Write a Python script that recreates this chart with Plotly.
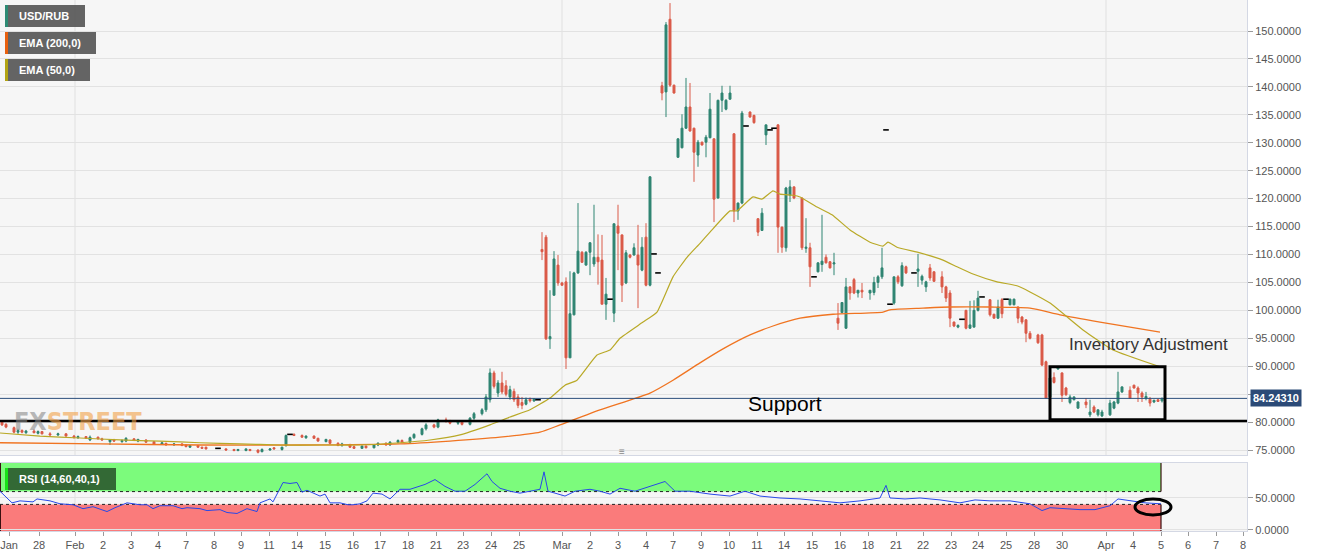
import plotly.graph_objects as go

# ---------------- data ----------------
candle_slot = [
    0, 1, 3, 4, 5, 6, 8, 9, 10, 12, 14, 16, 18, 19, 21, 22, 24, 25, 27, 28,
    30, 31, 33, 34, 36, 38, 40, 41, 43, 45, 46, 47, 49, 50, 51, 56, 58, 59, 61, 62,
    64, 65, 67, 68, 70, 71, 73, 75, 76, 78, 79, 81, 82, 84, 85, 87, 88, 90, 91, 93,
    94, 96, 97, 99, 100, 102, 103, 105, 106, 108, 109, 111, 112, 114, 115, 117, 118, 120, 121, 122,
    123, 124, 125, 126, 127, 128, 129, 130, 131, 132, 133,
    135, 136, 137, 138, 139, 140, 141, 142, 143, 144, 145, 146, 147, 148, 149, 150, 151, 153, 154, 155,
    156, 157, 158, 159, 160, 161, 162, 165, 166, 167, 168, 169, 170, 171, 172, 173, 174, 175, 176, 177,
    178, 179, 180, 181, 182, 183, 184, 185, 187, 188, 189, 190, 191, 194, 195, 196, 197, 198, 200, 201,
    202, 204, 205, 206, 207, 208, 209, 210, 211, 212, 213, 214, 215, 217, 218, 219, 220, 223, 224, 225,
    226, 229, 230, 231, 232, 233, 235, 236, 237, 238, 239, 241, 242, 243, 244, 247, 248, 249, 250, 252,
    253, 254, 255, 256, 257, 259, 260, 261, 262, 263, 264, 265, 266, 267, 268, 269, 271, 272, 273, 274,
    275, 277, 278, 279, 280, 282, 283, 284, 285, 286, 287, 288, 289, 290,
]
candle_open = [
    80.0, 79.6, 79.0, 78.2, 78.5, 78.1, 78.4, 78.0, 78.3, 77.9, 77.7, 77.9, 77.5, 77.2, 77.4, 76.8, 77.3, 77.0, 76.5, 76.8,
    76.5, 76.6, 77.0, 76.6, 76.8, 76.5, 76.0, 76.2, 75.9, 76.1, 75.9, 75.5, 75.8, 75.5, 75.5, 75.2, 75.1, 74.9, 74.9, 75.1,
    75.0, 74.7, 75.0, 75.4, 75.1, 75.8, 77.8, 77.6, 77.2, 77.5, 77.1, 76.5, 76.8, 76.2, 75.8, 76.0, 75.6, 75.3, 75.7, 75.4,
    75.9, 76.2, 75.9, 76.4, 76.7, 76.4, 77.2, 77.8, 78.8, 79.5, 79.1, 80.4, 80.1, 79.8, 80.0, 79.6, 80.7, 81.5, 82.2, 84.0,
    88.8, 85.2, 87.0, 86.5, 84.5, 85.5, 84.5, 83.5, 83.2, 84.1, 83.8,
    110.9, 113.1, 94.9, 102.7, 108.1, 104.9, 105.1, 91.5, 99.2, 106.7, 110.4, 108.1, 110.4, 108.3, 109.5, 109.0, 101.1, 99.5, 115.1, 113.5,
    104.9, 109.9, 109.9, 109.9, 107.2, 113.1, 104.5, 140.2, 139.1, 152.1, 140.3, 127.4, 129.1, 132.6, 136.4, 132.6, 127.8, 130.1, 130.1, 130.9,
    130.7, 120.1, 137.6, 136.0, 137.8, 131.6, 117.8, 119.2, 135.5, 134.9, 116.4, 114.3, 131.4, 133.2, 114.9, 111.2, 120.6, 122.1, 120.1, 111.1,
    111.2, 106.9, 108.2, 109.5, 108.7, 108.3, 98.6, 99.6, 96.8, 104.2, 105.5, 103.1, 103.6, 103.1, 103.2, 105.0, 106.0, 101.3, 106.0, 104.4,
    107.8, 107.0, 105.4, 104.2, 107.6, 106.9, 106.0, 104.2, 103.1, 97.9, 97.0, 100.0, 96.8, 97.0, 100.0, 101.9, 99.3, 98.6, 101.9, 101.0,
    101.0, 100.6, 98.8, 98.3, 95.9, 95.6, 95.6, 90.8, 84.5, 88.0, 89.5, 88.8, 86.1, 83.5, 84.0, 82.5, 83.6, 81.3, 82.7, 81.3,
    81.1, 81.3, 82.5, 83.4, 85.4, 85.7, 86.6, 86.1, 85.2, 84.3, 84.1, 83.6, 84.0, 83.8,
]
candle_high = [
    80.2, 79.8, 79.2, 78.8, 78.7, 78.6, 78.7, 78.5, 78.4, 78.2, 78.1, 78.0, 77.7, 77.6, 77.5, 77.6, 77.4, 77.2, 76.9, 77.0,
    76.9, 77.3, 77.1, 77.0, 76.9, 76.6, 76.5, 76.3, 76.2, 76.2, 76.0, 75.9, 75.9, 75.6, 75.6, 75.3, 75.2, 75.2, 75.3, 75.2,
    75.1, 75.3, 75.3, 75.5, 75.6, 77.8, 78.0, 77.8, 77.6, 77.6, 77.2, 77.0, 76.9, 76.4, 76.3, 76.1, 75.8, 75.8, 75.8, 76.0,
    76.4, 76.4, 76.6, 76.9, 76.9, 77.4, 78.0, 79.0, 79.8, 79.7, 80.6, 80.8, 80.4, 80.2, 80.1, 80.9, 81.8, 82.5, 85.0, 89.6,
    89.2, 87.5, 89.0, 87.5, 86.5, 86.0, 85.0, 84.5, 84.4, 84.4, 84.3,
    114.0, 113.5, 103.6, 110.6, 109.9, 105.1, 105.9, 107.0, 106.9, 119.2, 110.6, 110.6, 112.2, 118.9, 113.6, 113.5, 105.8, 115.5, 118.9, 113.6,
    110.8, 110.1, 112.0, 115.3, 113.1, 115.6, 124.0, 140.9, 151.6, 155.0, 140.4, 130.8, 135.1, 141.6, 140.7, 132.7, 130.5, 130.2, 131.4, 138.9,
    130.8, 137.7, 140.2, 137.8, 140.2, 131.7, 119.3, 135.7, 135.6, 135.0, 116.5, 118.3, 133.2, 133.3, 115.0, 122.1, 123.3, 122.2, 120.2, 116.5,
    112.1, 108.6, 117.1, 110.0, 108.8, 110.3, 101.3, 101.4, 105.8, 104.3, 105.8, 103.6, 104.9, 103.6, 106.0, 106.3, 111.2, 106.0, 106.3, 108.6,
    108.0, 110.1, 106.4, 105.3, 108.3, 107.0, 107.0, 104.4, 103.6, 98.0, 97.5, 100.1, 101.7, 101.8, 103.5, 102.0, 99.4, 101.9, 102.2, 102.1,
    102.1, 100.7, 99.0, 98.4, 96.3, 95.8, 95.8, 91.0, 88.1, 88.9, 89.8, 88.9, 86.3, 84.9, 84.6, 83.7, 84.3, 84.0, 83.0, 82.2,
    82.2, 84.0, 83.8, 89.0, 86.4, 86.4, 86.7, 86.4, 85.5, 85.4, 84.5, 84.0, 84.1, 84.4,
]
candle_low = [
    79.3, 78.9, 78.0, 77.9, 78.0, 77.9, 78.0, 77.8, 77.8, 77.6, 77.5, 77.4, 77.1, 77.0, 77.0, 76.6, 76.9, 76.7, 75.9, 76.5,
    76.3, 76.4, 76.6, 76.4, 76.3, 75.9, 75.9, 75.8, 75.8, 75.7, 75.5, 75.4, 75.4, 75.2, 75.1, 74.9, 74.8, 74.8, 74.8, 74.8,
    74.4, 74.6, 74.9, 75.1, 74.9, 75.6, 77.5, 77.2, 77.0, 77.0, 76.5, 76.4, 76.0, 75.7, 75.6, 75.4, 75.2, 75.2, 75.3, 75.3,
    75.7, 75.8, 75.8, 76.2, 76.3, 76.3, 77.0, 77.6, 78.5, 78.9, 78.9, 79.9, 79.6, 79.5, 79.4, 79.4, 80.4, 81.2, 81.8, 83.5,
    86.0, 84.5, 85.0, 84.6, 84.0, 83.6, 82.5, 82.3, 83.0, 83.5, 83.6,
    109.0, 94.7, 93.1, 102.7, 104.4, 104.4, 89.5, 91.5, 99.1, 106.5, 108.5, 108.0, 106.3, 107.8, 104.6, 101.1, 98.3, 97.9, 107.2, 101.5,
    104.7, 109.3, 109.8, 100.4, 107.0, 104.3, 104.3, 137.6, 134.6, 140.0, 138.8, 127.3, 129.0, 132.5, 132.0, 123.0, 125.7, 129.5, 127.4, 130.8,
    115.8, 120.0, 135.5, 135.8, 137.7, 115.8, 116.2, 119.0, 134.5, 133.4, 113.3, 114.2, 129.6, 110.3, 110.3, 110.5, 119.4, 119.9, 110.8, 110.3,
    104.2, 106.8, 106.9, 108.4, 107.5, 106.3, 96.5, 99.5, 96.7, 101.9, 102.9, 102.3, 102.2, 101.9, 102.7, 104.0, 105.6, 101.0, 104.7, 104.2,
    106.5, 104.2, 104.6, 103.3, 105.3, 105.1, 103.1, 101.5, 97.0, 97.0, 96.8, 96.6, 96.7, 96.9, 99.8, 98.9, 98.5, 98.5, 98.6, 100.9,
    100.9, 97.7, 97.5, 94.3, 94.8, 94.0, 90.0, 84.2, 84.3, 86.9, 89.4, 83.6, 84.7, 83.2, 83.9, 82.4, 82.5, 80.9, 81.6, 81.0,
    80.9, 81.1, 82.3, 83.2, 85.2, 84.2, 86.0, 83.6, 83.6, 83.9, 82.8, 83.4, 83.6, 83.5,
]
candle_close = [
    79.5, 79.1, 78.2, 78.5, 78.2, 78.4, 78.1, 78.3, 77.9, 77.7, 77.9, 77.5, 77.2, 77.4, 77.1, 77.3, 77.0, 76.8, 76.8, 76.6,
    76.7, 77.1, 76.7, 76.9, 76.4, 76.0, 76.3, 75.9, 76.1, 75.8, 75.6, 75.8, 75.5, 75.3, 75.2, 75.0, 74.9, 75.1, 75.2, 74.9,
    74.6, 75.1, 75.2, 75.2, 75.5, 77.6, 77.6, 77.3, 77.5, 77.1, 76.6, 76.9, 76.2, 75.8, 76.1, 75.5, 75.3, 75.7, 75.4, 75.9,
    76.2, 75.9, 76.4, 76.7, 76.4, 77.2, 77.8, 78.8, 79.5, 79.1, 80.4, 80.1, 79.8, 80.0, 79.6, 80.7, 81.5, 82.2, 84.5, 88.8,
    86.4, 87.0, 85.4, 85.0, 85.8, 84.0, 83.0, 83.0, 84.0, 83.8, 84.1,
    110.5, 94.9, 95.3, 109.2, 104.9, 104.5, 91.5, 99.4, 106.7, 110.6, 108.6, 110.4, 112.1, 109.5, 108.7, 101.1, 102.9, 115.5, 113.8, 104.5,
    110.3, 109.5, 111.2, 108.1, 111.3, 104.5, 123.9, 138.9, 151.1, 140.3, 138.9, 130.7, 132.6, 136.4, 132.1, 128.3, 130.1, 129.6, 131.0, 136.0,
    119.9, 137.6, 138.9, 137.6, 138.9, 117.8, 119.2, 135.3, 134.6, 133.6, 114.0, 117.4, 133.2, 114.9, 111.3, 121.9, 122.1, 120.1, 111.2, 111.3,
    107.8, 108.5, 108.8, 108.5, 107.6, 108.5, 97.7, 101.4, 104.2, 103.1, 103.1, 103.6, 103.3, 103.6, 105.0, 106.0, 107.6, 106.0, 105.1, 108.0,
    106.7, 107.4, 106.1, 105.1, 105.8, 105.2, 104.2, 102.2, 98.6, 97.2, 97.3, 96.8, 97.4, 100.0, 102.2, 99.2, 98.6, 100.6, 99.4, 102.0,
    102.0, 98.6, 97.9, 95.9, 95.0, 94.2, 90.2, 84.3, 87.9, 87.1, 89.7, 84.8, 84.9, 84.5, 84.5, 83.6, 83.1, 81.8, 81.8, 82.2,
    81.8, 83.4, 83.6, 85.4, 86.3, 84.3, 86.1, 85.2, 84.5, 84.6, 83.4, 83.9, 83.7, 84.2431,
]

dash_slot = [54, 72, 134, 152, 163, 164, 186, 192, 193, 203, 221, 222, 228, 240, 245, 251]
dash_price = [75.3, 77.8, 84.0, 102.0, 110.1, 106.7, 133.0, 132.3, 132.6, 106.0, 132.3, 101.1, 106.7, 98.4, 102.4, 102.0]

ema50_slot = [-0.5, 9.5, 19.5, 29.5, 39.5, 49.5, 59.5, 69.5, 79.5, 89.5, 99.5, 107, 114.5, 122, 127, 132,
              137, 140.75, 143.75, 148.75, 152, 154.5, 160.25, 163.75, 167.75, 171.25, 174.5, 177, 182,
              183.75, 187.75, 190, 192.75, 194.5, 197.75, 199.5, 203.75, 207.5, 212, 217, 220.25, 221.5,
              223.75, 229.5, 235.25, 238.75, 242.75, 248.75, 253.75, 257, 262, 270.25, 277.75, 289.5]
ema50_val = [78.05, 77.5, 77.15, 76.8, 76.6, 76.3, 76.1, 75.9, 75.9, 75.9, 76.3, 76.8, 77.7, 79.5, 80.9, 82.2,
             84.3, 86.6, 87.5, 92.0, 92.9, 95.0, 97.9, 99.7, 106.0, 109.5, 112.0, 114.0, 117.8,
             117.8, 120.3, 119.9, 121.4, 120.8, 120.6, 120.3, 118.5, 117.1, 114.4, 112.2, 111.5, 112.2,
             111.3, 110.3, 109.0, 107.8, 106.5, 105.1, 104.4, 103.3, 101.3, 96.5, 92.9, 89.9]

ema200_slot = [-0.5, 24.5, 49.5, 74.5, 99.5, 112, 124.5, 134.5, 139.5, 149.5, 162, 167.75, 174.5, 180.25,
               187, 192.75, 199.5, 207.75, 220.25, 222, 230.25, 237, 247, 257, 264.5, 274.5, 289.5]
ema200_val = [76.3, 76.1, 75.9, 75.9, 76.1, 76.6, 77.3, 78.2, 79.5, 82.2, 85.2, 87.5, 90.6, 93.1,
              95.6, 97.2, 98.6, 99.3, 99.7, 100.1, 100.4, 100.6, 100.6, 100.4, 99.2, 97.9, 96.1]

rsi_slot = [-0.5, 2.5, 4.5, 7.75, 8.75, 12, 14.5, 17.75, 20.25, 22.75, 26.25, 28.25, 31.25, 34.5, 36.25,
            37.75, 39.5, 42.75, 45, 46.25, 49.5, 51.25, 54.5, 56.25, 58.75, 61.25, 63.75, 64.5, 67, 67.75,
            70.25, 72, 73.75, 75, 76.25, 77.75, 79.5, 80.75, 82, 84.5, 86.5, 87.75, 89.5, 91.25, 92.75,
            95, 97, 99.5, 102, 105.75, 108.25, 110.75, 113.25, 115.75, 118.25, 121.25, 122.5, 124.5, 127,
            129.5, 132, 134.5, 135.5, 136.5, 138.25, 140.75, 143.25, 147, 149.5, 152, 154.5, 158.25, 162,
            165.75, 168.25, 172, 177, 182, 185.75, 189.5, 194.5, 199.5, 204.5, 209.5, 214.5, 219.5, 221,
            222, 225.75, 229.5, 234.5, 239.5, 243.25, 247, 252, 257, 260, 262, 265.75, 269.5, 273.25, 277,
            279, 282, 285.75, 289.75]
rsi_val = [60.6, 42.4, 45.5, 43.9, 48.5, 45.5, 40.9, 39.4, 33.3, 36.4, 28.8, 34.8, 42.4, 39.4, 39.4,
           33.3, 37.9, 37.9, 33.3, 34.8, 33.3, 30.3, 31.8, 27.3, 25.8, 33.3, 28.8, 42.4, 48.5, 43.9,
           74.2, 72.7, 74.2, 59.1, 62.1, 57.6, 53.0, 56.1, 42.4, 42.4, 39.4, 39.4, 40.9, 45.5, 57.6,
           56.1, 48.5, 63.6, 63.6, 71.2, 78.8, 68.2, 60.6, 60.6, 71.2, 87.9, 75.8, 65.2, 60.6,
           57.6, 60.6, 63.6, 90.9, 60.6, 57.6, 53.0, 60.6, 63.6, 60.6, 56.1, 65.2, 60.6, 68.2,
           75.8, 60.6, 60.6, 56.1, 53.0, 60.6, 53.0, 50.0, 48.5, 45.5, 42.4, 45.5, 50.0, 69.7,
           50.0, 48.5, 50.0, 47.0, 42.4, 47.0, 45.5, 45.5, 40.9, 30.3, 34.8, 33.3, 31.8, 31.8, 37.9,
           48.5, 45.5, 42.4, 40.9]

tick_slot = [1.75, 9.25, 18.25, 25.25, 32.25, 39, 46, 53, 59.75, 66.75, 73.75, 80.75, 87.75, 94.5,
             101.5, 108.5, 115.25, 122.25, 129.25, 140, 147, 154, 161, 167.75, 174.75, 181.75, 188.75,
             195.5, 202.5, 209.5, 216.5, 223.5, 230.25, 237.25, 244, 251, 258, 265, 276, 282.75,
             289.75, 296.5, 303.5, 310.25]
tick_text = ["Jan", "28", "Feb", "2", "3", "4", "7", "8", "9", "11", "14", "15", "16", "17",
             "18", "21", "23", "24", "25", "Mar", "2", "3", "4", "7", "9", "10", "11",
             "14", "15", "16", "18", "21", "22", "23", "24", "25", "28", "30", "Apr", "4",
             "5", "6", "7", "8"]
month_slot = [18.25, 140, 276]

last_price = 84.2431
last_price_text = "84.24310"
support_level = 80.2
box_slots = [262, 290.75]
box_prices = [80.4, 89.9]
price_ticks = [75, 80, 85, 90, 95, 100, 105, 110, 115, 120, 125, 130, 135, 140, 145, 150]
# the 85 label sits under the last-price tag in the reference
price_tick_text = ["75.0000", "80.0000", "", "90.0000", "95.0000", "100.0000", "105.0000",
                   "110.0000", "115.0000", "120.0000", "125.0000", "130.0000", "135.0000",
                   "140.0000", "145.0000", "150.0000"]
rsi_ticks = [0, 50]
rsi_tick_text = ["0.0000", "50.0000"]

# ---------------- figure ----------------
UP = "#2f8572"
DN = "#da5a48"
FONT = "Liberation Sans, Arial, sans-serif"
W, H = 1331, 558
PW, PH = 1247, 531


def pxx(x):
    return x / PW


def pyy(y):
    return 1 - y / PH


fig = go.Figure()

fig.add_trace(go.Candlestick(
    x=candle_slot, open=candle_open, high=candle_high, low=candle_low, close=candle_close,
    increasing=dict(line=dict(color=UP, width=1), fillcolor=UP),
    decreasing=dict(line=dict(color=DN, width=1), fillcolor=DN),
    xaxis="x", yaxis="y", showlegend=False, hoverinfo="skip",
))
fig.add_trace(go.Scatter(
    x=dash_slot, y=dash_price, mode="markers", xaxis="x", yaxis="y",
    marker=dict(symbol="line-ew", size=4, line=dict(color="black", width=1.6)),
    showlegend=False, hoverinfo="skip",
))
fig.add_trace(go.Scatter(
    x=ema200_slot, y=ema200_val, mode="lines", xaxis="x", yaxis="y",
    line=dict(color="#f07421", width=1.3, shape="spline", smoothing=0.6),
    showlegend=False, hoverinfo="skip",
))
fig.add_trace(go.Scatter(
    x=ema50_slot, y=ema50_val, mode="lines", xaxis="x", yaxis="y",
    line=dict(color="#b9a927", width=1.2, shape="spline", smoothing=0.4),
    showlegend=False, hoverinfo="skip",
))
fig.add_trace(go.Scatter(
    x=rsi_slot, y=rsi_val, mode="lines", xaxis="x2", yaxis="y2",
    line=dict(color="#2848e8", width=1),
    showlegend=False, hoverinfo="skip",
))

XR = [-0.5, 311.25]
AXLINE = "#d4d8e4"
TICKFONT = dict(size=11, color="#555555", family=FONT)
fig.update_layout(
    width=W, height=H,
    margin=dict(l=0, r=W - PW, t=0, b=H - PH),
    paper_bgcolor="white", plot_bgcolor="#f6f6f6",
    showlegend=False,
    font=dict(family=FONT),
    xaxis=dict(domain=[0, 1], anchor="y", range=XR, showticklabels=False, showgrid=False,
               zeroline=False, rangeslider=dict(visible=False), showline=True,
               linecolor=AXLINE, mirror=True, ticks=""),
    xaxis2=dict(domain=[0, 1], anchor="y2", range=XR, matches="x", tickmode="array",
                tickvals=tick_slot, ticktext=tick_text, ticks="outside", ticklen=4,
                tickcolor="#9a9a9a", tickfont=TICKFONT, ticklabeloverflow="allow",
                showgrid=False, zeroline=False, showline=True, linecolor=AXLINE, mirror=True),
    yaxis=dict(domain=[1 - 455 / PH, 1], anchor="x", side="right", range=[74.11, 155.55],
               tickmode="array", tickvals=price_ticks, ticktext=price_tick_text, ticks="outside",
               ticklen=5, tickcolor="#9a9a9a", tickfont=TICKFONT,
               showgrid=True, gridcolor="#e2e2e2", gridwidth=1, zeroline=False,
               showline=True, linecolor=AXLINE, mirror=True),
    yaxis2=dict(domain=[0, 1 - 463 / PH], anchor="x2", side="right", range=[-1.6, 104.7],
                tickmode="array", tickvals=rsi_ticks, ticktext=rsi_tick_text, ticks="outside",
                ticklen=5, tickcolor="#9a9a9a", tickfont=TICKFONT,
                showgrid=True, gridcolor="#e2e2e2", zeroline=False,
                showline=True, linecolor=AXLINE, mirror=True),
)

shapes = []
# month separators
for m in month_slot:
    shapes.append(dict(type="line", xref="x", yref="y", x0=m, x1=m, y0=74.11, y1=155.55,
                       line=dict(color="#e0e0e0", width=1), layer="below"))
    shapes.append(dict(type="line", xref="x2", yref="y2", x0=m, x1=m, y0=-1.6, y1=104.7,
                       line=dict(color="#e0e0e0", width=1), layer="below"))
# RSI bands
rsi_end = 289.75
shapes.append(dict(type="rect", xref="x2", yref="y2", x0=-0.5, x1=rsi_end, y0=60, y1=104.7,
                   fillcolor="#7cfb7c", line=dict(width=0), layer="below"))
shapes.append(dict(type="rect", xref="x2", yref="y2", x0=-0.5, x1=rsi_end, y0=-1.6, y1=40,
                   fillcolor="#fa7b7b", line=dict(width=0), layer="below"))
for lv in (60, 40):
    shapes.append(dict(type="line", xref="x2", yref="y2", x0=-0.5, x1=rsi_end, y0=lv, y1=lv,
                       line=dict(color="#222222", width=1, dash="dot"), layer="below"))
for (a, b) in ((60, 104.7), (-1.6, 40)):
    shapes.append(dict(type="line", xref="x2", yref="y2", x0=rsi_end, x1=rsi_end, y0=a, y1=b,
                       line=dict(color="#3a1010", width=1.2), layer="below"))
    shapes.append(dict(type="line", xref="x2", yref="y2", x0=-0.4, x1=-0.4, y0=a, y1=b,
                       line=dict(color="#3a1010", width=1.2), layer="below"))
# current price line
shapes.append(dict(type="line", xref="paper", yref="y", x0=0, x1=1, y0=last_price, y1=last_price,
                   line=dict(color="#2b4e7b", width=1)))
# support line
shapes.append(dict(type="line", xref="paper", yref="y", x0=0, x1=1, y0=support_level, y1=support_level,
                   line=dict(color="black", width=2.5)))
# inventory box
shapes.append(dict(type="rect", xref="x", yref="y", x0=box_slots[0], x1=box_slots[1],
                   y0=box_prices[0], y1=box_prices[1], line=dict(color="black", width=3)))
# ellipse on RSI
shapes.append(dict(type="circle", xref="x2", yref="y2", x0=283.25, x1=292.25, y0=23.4, y1=48.4,
                   line=dict(color="black", width=3)))

# legend boxes
legend_items = [("USD/RUB", "#2e8b74", 5, 85, 5, 27),
                ("EMA (200,0)", "#e8600f", 5, 96, 32, 54),
                ("EMA (50,0)", "#b2a312", 5, 90, 59, 81),
                ("RSI (14,60,40,1)", "#19e019", 5, 116, 468, 490)]
annotations = []
for i, (txt, col, x0, x1, y0, y1) in enumerate(legend_items):
    fill = "#2f6132" if i == 3 else "#5c5c5c"
    shapes.append(dict(type="rect", xref="paper", yref="paper", x0=pxx(x0), x1=pxx(x1),
                       y0=pyy(y1), y1=pyy(y0), fillcolor=fill, line=dict(width=0), opacity=0.95))
    shapes.append(dict(type="rect", xref="paper", yref="paper", x0=pxx(x0), x1=pxx(x0 + 3),
                       y0=pyy(y1), y1=pyy(y0), fillcolor=col, line=dict(width=0)))
    annotations.append(dict(xref="paper", yref="paper", x=pxx(17), y=pyy((y0 + y1) / 2),
                            xanchor="left", yanchor="middle", text="<b>%s</b>" % txt,
                            showarrow=False, font=dict(size=11, color="white", family=FONT)))

# price label
annotations.append(dict(xref="paper", yref="y", x=pxx(1250), y=last_price, xanchor="left",
                        yanchor="middle", text="<b>%s</b>" % last_price_text, showarrow=False,
                        bgcolor="#2b4a77", borderpad=2,
                        font=dict(size=11, color="white", family=FONT)))
# text annotations
annotations.append(dict(xref="x", yref="y", x=195.75, y=83.3, text="Support", showarrow=False,
                        font=dict(size=21, color="black", family=FONT)))
annotations.append(dict(xref="x", yref="y", x=286.5, y=93.8, text="Inventory Adjustment",
                        showarrow=False, font=dict(size=17, color="#333333", family=FONT)))
# watermark
annotations.append(dict(xref="paper", yref="paper", x=pxx(12), y=pyy(421), xanchor="left",
                        yanchor="middle",
                        text="<b><span style='color:#8c8c8c'>FX</span><span style='color:#f2a24a'>STREET</span></b>",
                        showarrow=False, opacity=0.6,
                        font=dict(size=25, family="Liberation Sans Narrow, DejaVu Sans Condensed, Arial")))
# panel handle
annotations.append(dict(xref="paper", yref="paper", x=pxx(622), y=pyy(459), text="≡",
                        showarrow=False, font=dict(size=10, color="#888888")))

fig.update_layout(shapes=shapes, annotations=annotations)
fig.write_html("out.html")
